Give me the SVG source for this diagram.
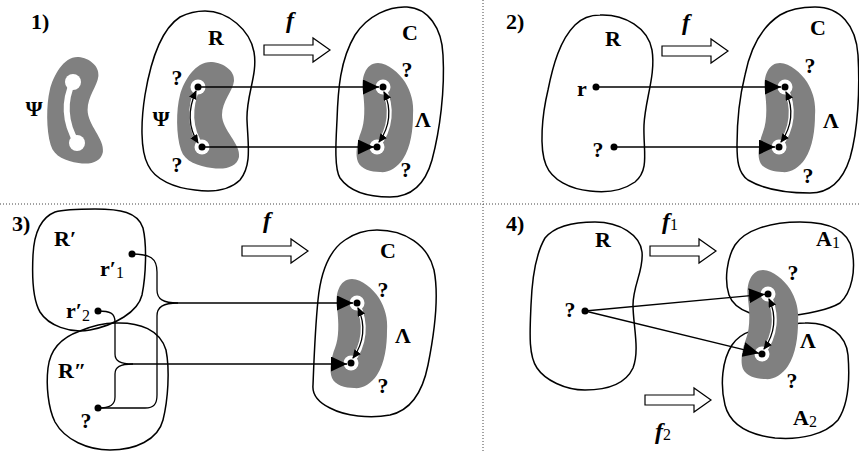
<svg xmlns="http://www.w3.org/2000/svg" width="859" height="452" viewBox="0 0 859 452">
  <style>
    .blob { fill: none; stroke: #000; stroke-width: 1.5; }
    .kid { fill: #808080; }
    .hole { fill: #fff; }
    .band { fill: none; stroke: #fff; stroke-width: 5; stroke-linecap: round; }
    .dot { fill: #000; }
    .dbl { fill: none; stroke: #000; stroke-width: 1.3; marker-start: url(#sa); marker-end: url(#sa); }
    .con { fill: none; stroke: #000; stroke-width: 1.3; }
    .arr { fill: none; stroke: #000; stroke-width: 1.3; marker-end: url(#ah); }
    .div { fill: none; stroke: #444; stroke-width: 1; stroke-dasharray: 1 2; }
    .fat { fill: #fff; stroke: #000; stroke-width: 1.2; }
    text { font-family: "Liberation Serif", "Times New Roman", serif; font-weight: bold; font-size: 22px; fill: #000; }
    .m { text-anchor: middle; }
    .it { font-style: italic; font-size: 24px; }
    .sub { font-weight: normal; font-style: normal; font-size: 16px; }
  </style>
  <defs>
    <marker id="ah" markerUnits="userSpaceOnUse" markerWidth="16" markerHeight="15" refX="16" refY="7.5" orient="auto">
      <path d="M0,0 L16,7.5 L0,15 Z" fill="#000"/>
    </marker>
    <marker id="sa" markerUnits="userSpaceOnUse" markerWidth="9" markerHeight="8" refX="8" refY="4" orient="auto-start-reverse">
      <path d="M0,0 L9,4 L0,8 Z" fill="#000"/>
    </marker>
    <!-- crescent region opening to the right, origin at the upper hole -->
    <path id="kidR" d="M14,-25 C26,-24 37,-16 36,-6 C35,4 24,14 24,28 C24,43 43,57 41,70 C39,80 27,83 14,81 C0,79 -13,75 -17,63 C-22,48 -22,23 -18,8 C-14,-7 -2,-26 14,-25 Z"/>
    <!-- crescent region opening to the left, origin at the upper hole -->
    <path id="kidC" d="M-5,-24 C5,-24 16,-14 22,-5 C28,5 31,15 30,28 C30,42 28,60 20,72 C14,81 5,86 -3,85 C-12,85 -22,82 -25,75 C-28,68 -26,55 -22,45 C-18,35 -18,20 -20,5 C-22,-8 -18,-24 -5,-24 Z"/>
    <g id="holesR">
      <path class="band" d="M0,0 C-9,20 -9,42 4,60"/>
      <circle class="hole" cx="0" cy="0" r="7.5"/>
      <circle class="hole" cx="4" cy="60" r="7.5"/>
    </g>
    <g id="holesC">
      <path class="band" d="M0,0 C10,20 8,42 -6,60"/>
      <circle class="hole" cx="0" cy="0" r="7.5"/>
      <circle class="hole" cx="-6" cy="60" r="7.5"/>
    </g>
    <g id="markC">
      <path class="dbl" d="M1,5 C9,22 7,40 -4,55"/>
      <circle class="dot" cx="0" cy="0" r="3.5"/>
      <circle class="dot" cx="-6" cy="60" r="3.5"/>
    </g>
    <path id="fat" class="fat" d="M0,-5 H49 V-12 L66,0 L49,12 V5 H0 Z"/>
  </defs>

  <!-- panel dividers -->
  <g id="dividers">
    <line class="div" x1="0" y1="204" x2="859" y2="204"/>
    <line class="div" x1="483" y1="0" x2="483" y2="452"/>
  </g>

  <!-- panel 1 -->
  <g id="p1-title"><text x="31" y="29">1)</text></g>
  <g id="p1-psi">
    <use href="#kidR" class="kid" transform="translate(66,82) scale(0.9,1)"/>
    <path class="band" style="stroke-width:6" d="M73,82 C64,100 64,122 77,143"/>
    <circle class="hole" cx="73" cy="82" r="8"/>
    <circle class="hole" cx="77" cy="143" r="8"/>
    <text class="m" x="34" y="116">Ψ</text>
  </g>
  <g id="p1-R">
    <path class="blob" d="M205,11 C228,11 250,30 254,52 C258,75 246,95 247,120 C248,145 252,165 240,180 C228,192 210,192 195,190 C175,188 155,180 148,165 C140,150 141,120 145,95 C150,65 160,30 180,17 C188,13 196,11 205,11 Z"/>
    <use href="#kidR" class="kid" transform="translate(198,87)"/>
    <use href="#holesR" transform="translate(198,87)"/>
    <path class="dbl" d="M-2,4 C-10,22 -10,40 0,56" transform="translate(198,87)"/>
    <circle class="dot" cx="198" cy="87" r="3.5"/>
    <circle class="dot" cx="202" cy="147" r="3.5"/>
    <text class="m" x="216" y="45">R</text>
    <text class="m" x="161" y="126">Ψ</text>
    <text class="m" x="177" y="85">?</text>
    <text class="m" x="177" y="172">?</text>
  </g>
  <g id="p1-f">
    <use href="#fat" transform="translate(264,50)"/>
    <text class="m it" x="290" y="28">f</text>
  </g>
  <g id="p1-C">
    <path class="blob" d="M407,7 C428,8 442,28 443,55 C445,90 440,130 432,160 C425,185 410,197 390,197 C370,197 350,192 340,178 C334,168 336,140 337,120 C338,90 340,60 355,35 C368,15 390,6 407,7 Z"/>
    <use href="#kidC" class="kid" transform="translate(383,87)"/>
    <use href="#holesC" transform="translate(383,87)"/>
    <use href="#markC" transform="translate(383,87)"/>
    <text class="m" x="410" y="40">C</text>
    <text class="m" x="407" y="77">?</text>
    <text class="m" x="406" y="177">?</text>
    <text class="m" x="423" y="127">Λ</text>
  </g>

  <!-- panel 2 -->
  <g id="p2-title"><text x="506" y="29">2)</text></g>
  <g id="p2-R">
    <path class="blob" d="M600,15 C625,14 648,28 652,50 C656,75 645,100 644,125 C643,150 650,170 635,182 C622,191 605,193 590,191 C570,189 552,180 546,165 C539,148 542,115 548,90 C553,65 560,40 575,25 C582,18 590,15 600,15 Z"/>
    <circle class="dot" cx="596" cy="87" r="3.5"/>
    <circle class="dot" cx="614" cy="147" r="3.5"/>
    <text class="m" x="613" y="46">R</text>
    <text class="m" x="582" y="96">r</text>
    <text class="m" x="598" y="157">?</text>
  </g>
  <g id="p2-f">
    <use href="#fat" transform="translate(662,51)"/>
    <text class="m it" x="686" y="30">f</text>
  </g>
  <g id="p2-C">
    <path class="blob" d="M815,7 C840,7 856,25 858,55 C860,90 858,130 850,158 C843,180 830,193 810,193 C790,193 765,190 748,180 C738,173 737,160 737,145 C737,120 740,95 745,75 C750,50 760,28 780,15 C790,9 803,7 815,7 Z"/>
    <use href="#kidC" class="kid" transform="translate(785,87)"/>
    <use href="#holesC" transform="translate(785,87)"/>
    <use href="#markC" transform="translate(785,87)"/>
    <text class="m" x="818" y="35">C</text>
    <text class="m" x="810" y="73">?</text>
    <text class="m" x="808" y="183">?</text>
    <text class="m" x="831" y="128">Λ</text>
  </g>

  <!-- panel 3 -->
  <g id="p3-title"><text x="12" y="231">3)</text></g>
  <g id="p3-R1">
    <path class="blob" d="M95,209 C120,209 138,212 143,228 C147,245 146,275 142,295 C138,312 115,325 90,330 C70,334 48,325 40,312 C33,300 32,275 33,255 C34,235 40,218 55,212 C65,209 80,209 95,209 Z"/>
    <circle class="dot" cx="132" cy="254" r="3.5"/>
    <circle class="dot" cx="98" cy="311" r="3.5"/>
    <text x="54" y="246">R′</text>
    <text x="100" y="276">r′<tspan class="sub" dy="2">1</tspan></text>
    <text x="66" y="318">r′<tspan class="sub" dy="3">2</tspan></text>
  </g>
  <g id="p3-R2">
    <path class="blob" d="M115,323 C140,322 160,330 166,350 C170,370 168,400 163,420 C158,440 135,450 110,450 C88,450 65,440 55,422 C48,408 46,385 48,368 C50,350 60,338 80,331 C92,326 103,323 115,323 Z"/>
    <circle class="dot" cx="98" cy="408" r="3.5"/>
    <text x="58" y="378">R″</text>
    <text class="m" x="86" y="428">?</text>
  </g>
  <g id="p3-f">
    <use href="#fat" transform="translate(242,251)"/>
    <text class="m it" x="267" y="228">f</text>
  </g>
  <g id="p3-C">
    <path class="blob" d="M377,230 C405,230 428,245 434,270 C440,300 433,340 428,365 C423,390 412,410 390,415 C370,419 345,416 330,408 C318,402 312,395 313,385 C314,360 315,330 318,300 C321,270 330,250 345,240 C355,233 365,230 377,230 Z"/>
    <use href="#kidC" class="kid" transform="translate(357,303)"/>
    <use href="#holesC" transform="translate(357,303)"/>
    <use href="#markC" transform="translate(357,303)"/>
    <text class="m" x="388" y="258">C</text>
    <text class="m" x="383" y="297">?</text>
    <text class="m" x="383" y="393">?</text>
    <text class="m" x="403" y="343">Λ</text>
  </g>

  <!-- panel 4 -->
  <g id="p4-title"><text x="506" y="231">4)</text></g>
  <g id="p4-R">
    <path class="blob" d="M595,222 C620,222 640,235 642,252 C644,270 633,285 633,305 C633,325 640,350 633,368 C625,385 605,390 585,390 C565,390 545,380 537,368 C528,355 530,330 531,305 C532,280 535,255 545,238 C555,226 575,222 595,222 Z"/>
    <circle class="dot" cx="585" cy="311" r="3.5"/>
    <text class="m" x="603" y="247">R</text>
    <text class="m" x="570" y="317">?</text>
  </g>
  <g id="p4-f1">
    <use href="#fat" transform="translate(650,251)"/>
    <text class="it" x="662" y="229">f<tspan class="sub" dy="1">1</tspan></text>
  </g>
  <g id="p4-f2">
    <use href="#fat" transform="translate(645,400)"/>
    <text class="it" x="655" y="439">f<tspan class="sub" dy="1">2</tspan></text>
  </g>
  <g id="p4-A1">
    <path class="blob" d="M800,222 C825,222 848,228 852,250 C856,270 852,292 840,303 C825,312 800,315 780,317 C760,318 735,312 729,295 C724,280 727,258 735,245 C745,230 770,222 800,222 Z"/>
    <text x="816" y="246">A<tspan class="sub" dy="2">1</tspan></text>
  </g>
  <g id="p4-A2">
    <path class="blob" d="M805,323 C830,322 846,335 848,355 C850,380 848,405 838,420 C825,435 800,440 775,438 C750,435 730,425 725,405 C720,385 722,360 732,345 C742,330 760,328 780,326 C790,325 798,323 805,323 Z"/>
    <text x="793" y="425">A<tspan class="sub" dy="2">2</tspan></text>
  </g>
  <g id="p4-lambda">
    <use href="#kidC" class="kid" transform="translate(768,294)"/>
    <use href="#holesC" transform="translate(768,294)"/>
    <use href="#markC" transform="translate(768,294)"/>
    <text class="m" x="793" y="280">?</text>
    <text class="m" x="792" y="388">?</text>
    <text class="m" x="808" y="348">Λ</text>
  </g>

  <!-- connectors -->
  <g id="connectors">
    <path class="arr" d="M198,87 L379,87"/>
    <path class="arr" d="M202,147 L374,147"/>
    <path class="arr" d="M596,87 L781,87"/>
    <path class="arr" d="M614,147 L775,147"/>
    <path class="con" d="M132,254 C150,254 157,258 157,272 L157,290 C157,299 163,303 178,303"/>
    <path class="con" d="M98,408 L145,408 C154,408 157,404 157,395 L157,316 C157,307 163,303 178,303"/>
    <path class="con" d="M98,311 C110,311 115,313 115,322 L115,354 C115,361 120,364 133,364"/>
    <path class="con" d="M98,408 C110,408 115,405 115,397 L115,374 C115,367 120,364 133,364"/>
    <path class="arr" d="M178,303 L353,303"/>
    <path class="arr" d="M133,364 L347,364"/>
    <path class="arr" d="M585,311 L765,294.3"/>
    <path class="arr" d="M585,311 L759,353.3"/>
  </g>
</svg>
